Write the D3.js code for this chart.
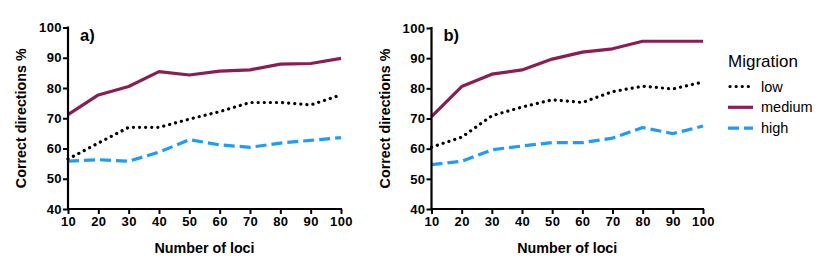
<!DOCTYPE html>
<html><head><meta charset="utf-8">
<script src="https://cdn.jsdelivr.net/npm/d3@7"></script>
<style>body{margin:0;background:#fff}svg{display:block}text{font-family:"Liberation Sans",Arial,sans-serif}</style>
</head><body><svg id="c" width="830" height="272"></svg>
<script>
const loci = [10,20,30,40,50,60,70,80,90,100];
const yTicks = [40,50,60,70,80,90,100];
const seriesNames = ["low","medium","high"];
const aLow    = [56.5,61.8,67,67,69.7,72.2,75.2,75.2,74.4,77.7];
const aMedium = [71.2,77.7,80.5,85.4,84.3,85.6,86,87.9,88.1,89.8];
const aHigh   = [55.8,56.3,55.8,58.8,62.9,61.2,60.4,61.8,62.7,63.6];
const bLow    = [60.5,63.8,70.9,73.8,76.2,75.3,78.9,80.7,79.8,82.1];
const bMedium = [70.6,80.6,84.7,86.1,89.7,92.0,93.1,95.6,95.6,95.6];
const bHigh   = [54.7,55.8,59.6,60.9,62.0,62.0,63.5,67.0,65.0,67.5];
const panelLabels = ["a)","b)"];

const styles = {
  low:{color:"#000", dash:"0.1 6", cap:"round", w:3.2},
  medium:{color:"#8c1c55", dash:null, cap:"butt", w:3.2},
  high:{color:"#1e9cf6", dash:"11 5", cap:"butt", w:3.2}
};

const svg = d3.select("#c");
const panels = [
  {x0:68, x1:341, y0:27.5, y1:209, data:{low:aLow,medium:aMedium,high:aHigh}, label:panelLabels[0]},
  {x0:431.5, x1:703, y0:28, y1:209, data:{low:bLow,medium:bMedium,high:bHigh}, label:panelLabels[1]}
];

panels.forEach(p=>{
  const x = d3.scaleLinear().domain([10,100]).range([p.x0,p.x1]);
  const y = d3.scaleLinear().domain([40,100]).range([p.y1,p.y0]);
  const g = svg.append("g");
  const line = d3.line().x((d,i)=>x(loci[i])).y(d=>y(d));
  seriesNames.forEach(n=>{
    const s = styles[n];
    g.append("path").attr("d", line(p.data[n])).attr("fill","none")
      .attr("stroke",s.color).attr("stroke-width",s.w)
      .attr("stroke-dasharray",s.dash).attr("stroke-linecap",s.cap)
      .attr("stroke-linejoin","round");
  });
  const xa = g.append("g").attr("transform",`translate(0,${p.y1})`)
    .call(d3.axisBottom(x).tickValues(loci).tickSize(5).tickPadding(3).tickSizeOuter(0));
  const ya = g.append("g").attr("transform",`translate(${p.x0},0)`)
    .call(d3.axisLeft(y).tickValues(yTicks).tickSize(5).tickPadding(1).tickSizeOuter(0));
  [xa,ya].forEach(a=>{
    a.select(".domain").attr("stroke","#000").attr("stroke-width",2.2);
    a.selectAll(".tick line").attr("stroke","#000").attr("stroke-width",2);
    a.selectAll("text").attr("fill","#000").attr("font-size",13).attr("font-weight","bold")
      .attr("letter-spacing",0.4)
      .attr("font-family",'"Liberation Sans",Arial,sans-serif');
  });
  xa.select(".domain").attr("d",`M${p.x0-1},0H${p.x1+1}`);
  ya.select(".domain").attr("d",`M0,${p.y0-1}V${p.y1+1}`);
  g.append("text").attr("x",(p.x0+p.x1)/2).attr("y",253).attr("text-anchor","middle")
    .attr("font-size",14.3).attr("font-weight","bold").text("Number of loci");
  g.append("text").attr("transform",`translate(${p.x0-42},${(p.y0+p.y1)/2}) rotate(-90)`)
    .attr("text-anchor","middle").attr("font-size",14.3).attr("font-weight","bold").text("Correct directions %");
  g.append("text").attr("x",p.x0+12).attr("y",41).attr("font-size",16.5).attr("font-weight","bold").text(p.label);
});

const lg = svg.append("g");
lg.append("text").attr("x",728).attr("y",67).attr("font-size",17).text("Migration");
seriesNames.forEach((n,i)=>{
  const cy = 86.5 + i*20.8;
  const s = styles[n];
  lg.append("line").attr("x1",n==="low"?730:728).attr("x2",753).attr("y1",cy).attr("y2",cy)
    .attr("stroke",s.color).attr("stroke-width",s.w).attr("stroke-dasharray",s.dash).attr("stroke-linecap",s.cap);
  lg.append("text").attr("x",761).attr("y",cy+5).attr("font-size",14.5).text(n);
});
</script></body></html>
